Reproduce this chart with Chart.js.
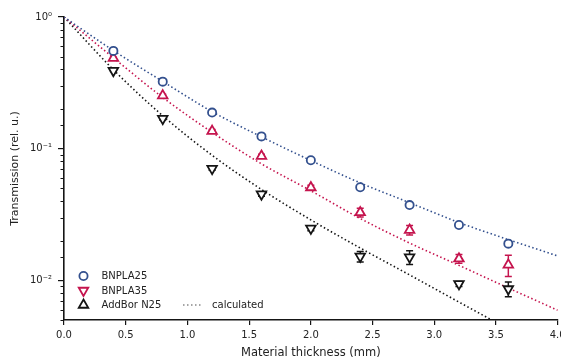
<!DOCTYPE html>
<html>
<head>
<meta charset="utf-8">
<script src="https://cdn.jsdelivr.net/npm/chart.js@4.4.1/dist/chart.umd.min.js"></script>
<style>
  html, body { margin: 0; background: #fff; overflow: hidden; }
  #wrap { width: 565px; height: 361px; position: relative; }
</style>
</head>
<body>
<div id="wrap"><canvas id="myChart"></canvas></div>
<script>
// measured transmission
const thickness = [0.4, 0.8, 1.2, 1.6, 2.0, 2.4, 2.8, 3.2, 3.6];
const bnpla25    = [0.553, 0.323, 0.188, 0.124, 0.0816, 0.051, 0.0373, 0.0263, 0.019];
const bnpla25Err = [0.006, 0.004, 0.003, 0.002, 0.0012, 0.0010, 0.0008, 0.0006, 0.0005];
const bnpla35    = [0.487, 0.253, 0.136, 0.0879, 0.0507, 0.0328, 0.0241, 0.0146, 0.0131];
const bnpla35Err = [0.008, 0.006, 0.004, 0.003, 0.0020, 0.0025, 0.0020, 0.0011, 0.0024];
const addBor     = [0.391, 0.169, 0.0706, 0.0451, 0.0248, 0.0152, 0.0150, 0.0094, 0.0086];
const addBorErr  = [0.006, 0.004, 0.002, 0.0015, 0.0010, 0.0014, 0.0018, 0.0004, 0.0011];

// calculated curves
const calcThickness = [0, 0.4, 0.8, 1.2, 1.6, 2.0, 2.4, 2.8, 3.2, 3.6, 4.0];
const calc25     = [1, 0.556, 0.324, 0.191, 0.123, 0.0813, 0.0550, 0.0389, 0.0275, 0.0204, 0.0153];
const calc35     = [1, 0.490, 0.245, 0.133, 0.0767, 0.0479, 0.0295, 0.0192, 0.0130, 0.00875, 0.00593];
const calcAddBor = [1, 0.398, 0.178, 0.0891, 0.0490, 0.0288, 0.0176, 0.0110, 0.00684, 0.00427, 0.00269];

const yTickValues = [1, 0.1, 0.01];
const yTickLabels = ['10⁰', '10⁻¹', '10⁻²'];

const BLUE = '#33508e', RED = '#c5144e', BLACK = '#151515';
const FONT = '"DejaVu Sans", sans-serif';

function pts(xs, ys) { return xs.map((x, i) => ({x: x, y: ys[i]})); }
function isDecade(v) { const l = Math.log10(v); return Math.abs(l - Math.round(l)) < 1e-6; }

function marks(label, ys, errs, color, style, rot, r) {
  return {
    label: label, data: pts(thickness, ys), errors: errs,
    showLine: false, borderColor: color, backgroundColor: '#ffffff',
    pointStyle: style, rotation: rot, pointRadius: r, pointHoverRadius: r,
    pointBorderWidth: 1.8, order: 1
  };
}
function calc(ys, color) {
  return {
    label: 'calculated', data: pts(calcThickness, ys), showLine: true,
    borderColor: color, borderWidth: 1.6, borderDash: [1.5, 2.5], pointRadius: 0,
    cubicInterpolationMode: 'monotone', fill: false, order: 2
  };
}

const errorBars = {
  id: 'errorBars',
  beforeDatasetsDraw(chart) {
    const ctx = chart.ctx, xs = chart.scales.x, ys = chart.scales.y, a = chart.chartArea;
    ctx.save();
    ctx.beginPath(); ctx.rect(a.left, a.top, a.right - a.left, a.bottom - a.top); ctx.clip();
    chart.data.datasets.forEach(ds => {
      if (!ds.errors) return;
      ctx.strokeStyle = ds.borderColor; ctx.lineWidth = 1.5;
      ds.data.forEach((p, i) => {
        const px = xs.getPixelForValue(p.x);
        const t = ys.getPixelForValue(p.y + ds.errors[i]);
        const b = ys.getPixelForValue(p.y - ds.errors[i]);
        ctx.beginPath();
        ctx.moveTo(px, t); ctx.lineTo(px, b);
        ctx.moveTo(px - 3.5, t); ctx.lineTo(px + 3.5, t);
        ctx.moveTo(px - 3.5, b); ctx.lineTo(px + 3.5, b);
        ctx.stroke();
      });
    });
    ctx.restore();
  }
};

const minorTicks = {
  id: 'minorTicks',
  afterDraw(chart) {
    const ctx = chart.ctx, ys = chart.scales.y, left = chart.chartArea.left;
    ctx.save();
    ctx.strokeStyle = BLACK; ctx.lineWidth = 1;
    ys.ticks.forEach(t => {
      if (isDecade(t.value)) return;
      const py = Math.round(ys.getPixelForValue(t.value)) + 0.5;
      ctx.beginPath(); ctx.moveTo(left - 3.5, py); ctx.lineTo(left, py); ctx.stroke();
    });
    ctx.restore();
  }
};

const legendItems = [
  {label: 'BNPLA25', color: BLUE, style: 'circle', rot: 0, r: 4.1},
  {label: 'BNPLA35', color: RED, style: 'triangle', rot: 180, r: 5.5},
  {label: 'AddBor N25', color: BLACK, style: 'triangle', rot: 0, r: 5.5}
];

const customLegend = {
  id: 'customLegend',
  afterDraw(chart) {
    const ctx = chart.ctx, a = chart.chartArea;
    const x0 = a.left + 19.5, y0 = a.bottom - 44;
    ctx.save();
    ctx.font = '10px ' + FONT; ctx.textBaseline = 'middle'; ctx.textAlign = 'left';
    legendItems.forEach((it, i) => {
      const y = y0 + i * 14.5;
      ctx.strokeStyle = it.color; ctx.fillStyle = '#ffffff'; ctx.lineWidth = 1.8;
      Chart.helpers.drawPoint(ctx, {pointStyle: it.style, rotation: it.rot, radius: it.r, borderWidth: 1.8}, x0, y);
      ctx.fillStyle = '#222';
      ctx.fillText(it.label, x0 + 18, y + 0.5);
    });
    const yc = y0 + 2 * 14.5;
    ctx.strokeStyle = '#888'; ctx.lineWidth = 1.5; ctx.setLineDash([1.5, 2.5]);
    ctx.beginPath(); ctx.moveTo(a.left + 119, yc); ctx.lineTo(a.left + 139, yc); ctx.stroke();
    ctx.setLineDash([]);
    ctx.fillStyle = '#222';
    ctx.fillText('calculated', a.left + 148, yc + 0.5);
    ctx.restore();
  }
};

const ctx = document.getElementById('myChart').getContext('2d');
const myChart = new Chart(ctx, {
  type: 'scatter',
  data: {
    datasets: [
      calc(calc25, BLUE),
      calc(calc35, RED),
      calc(calcAddBor, BLACK),
      marks('BNPLA25', bnpla25, bnpla25Err, BLUE, 'circle', 0, 4.1),
      marks('BNPLA35', bnpla35, bnpla35Err, RED, 'triangle', 0, 5.5),
      marks('AddBor N25', addBor, addBorErr, BLACK, 'triangle', 180, 5.5)
    ]
  },
  options: {
    responsive: true,
    maintainAspectRatio: false,
    animation: false,
    layout: { padding: { left: 0, top: 17, right: 0, bottom: 0 } },
    plugins: { legend: { display: false }, tooltip: { enabled: false } },
    scales: {
      x: {
        type: 'linear', min: 0, max: 4,
        border: { display: true, color: BLACK, width: 1.6 },
        grid: { drawOnChartArea: false, drawTicks: true, tickLength: 5, color: BLACK, lineWidth: 1.2 },
        ticks: {
          stepSize: 0.5, padding: 4, maxRotation: 0, autoSkip: false,
          color: '#222', font: { family: FONT, size: 10 },
          callback: v => Number(v).toFixed(1)
        },
        title: { display: true, text: 'Material thickness (mm)', color: '#222',
                 font: { family: FONT, size: 11.5 }, padding: { top: 0, bottom: 1 } },
        afterFit(s) { s.height = 41; s.paddingLeft = 0; s.paddingRight = 0; }
      },
      y: {
        type: 'logarithmic', min: 0.005, max: 1,
        border: { display: true, color: BLACK, width: 1.6 },
        grid: { drawOnChartArea: false, drawTicks: true, tickLength: 6, lineWidth: 1.2,
                tickColor: c => (c.tick && isDecade(c.tick.value)) ? BLACK : 'rgba(0,0,0,0)' },
        ticks: {
          padding: 6, autoSkip: false, color: '#222', font: { family: FONT, size: 10 },
          callback: v => {
            const k = yTickValues.findIndex(t => Math.abs(t - v) / t < 1e-6);
            return k >= 0 ? yTickLabels[k] : '';
          }
        },
        title: { display: true, text: 'Transmission (rel. u.)', color: '#222',
                 font: { family: FONT, size: 11 }, padding: { top: 9, bottom: 0 } },
        afterFit(s) { s.width = 64; s.paddingTop = 0; s.paddingBottom = 0; }
      }
    }
  },
  plugins: [errorBars, minorTicks, customLegend]
});
</script>
</body>
</html>
